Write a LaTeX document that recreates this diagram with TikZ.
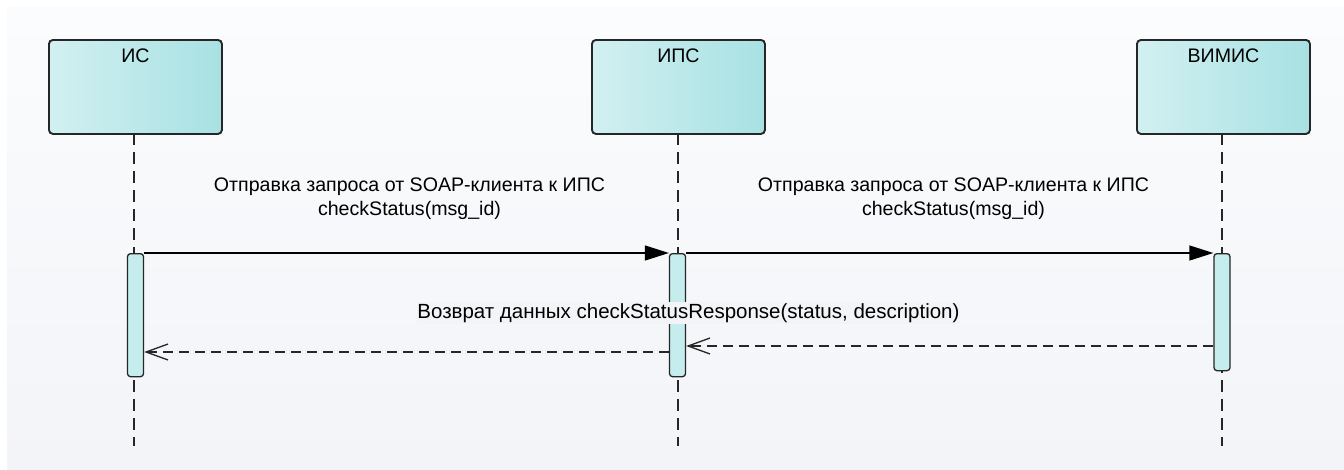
\documentclass[tikz,border=0pt]{standalone}
\usepackage{fontspec}
\setmainfont{Liberation Sans}
\usetikzlibrary{arrows.meta,calc}
\definecolor{lineclr}{HTML}{262626}
\definecolor{boxleft}{HTML}{D2F0F1}
\definecolor{boxright}{HTML}{A8E1E3}
\definecolor{barfill}{HTML}{C6EDEE}
\definecolor{bgtop}{HTML}{FBFCFD}
\definecolor{bgbot}{HTML}{F3F4F8}
\begin{document}
\begin{tikzpicture}[x=1pt,y=-1pt,
  font=\fontsize{19.6}{24}\selectfont,
  lifebox/.style={draw=lineclr,line width=1.9pt,rounded corners=4pt,
    left color=boxleft,right color=boxright,minimum width=173pt,
    minimum height=94pt,inner sep=0pt,anchor=north west},
  boxtitle/.style={inner sep=0pt,text=black},
  actbar/.style={draw=lineclr,line width=1.3pt,rounded corners=3pt,
    fill=barfill,minimum width=16pt,inner sep=0pt,anchor=north},
  lifeline/.style={draw=lineclr,line width=1.3pt,dash pattern=on 12pt off 7pt},
  callmsg/.style={draw=black,line width=1.3pt,
    -{Triangle[length=24pt,width=15pt]}},
  retmsg/.style={draw=lineclr,line width=1.4pt,dash pattern=on 10pt off 6pt,
    -{Straight Barb[length=22pt,width=16pt,line width=1.3pt]}},
  msglabel/.style={align=center,inner sep=0pt,text=black}
]
\useasboundingbox (0,0) rectangle (1344,469);
\fill[white] (0,0) rectangle (1344,469);
\shade[top color=bgtop,bottom color=bgbot] (7,7) rectangle (1344,469);

% lifelines
\coordinate (endIS) at (134,446);
\coordinate (endIPS) at (678,446);
\coordinate (endV) at (1222,446);
\path[lifeline] (134,133) -- (endIS);
\path[lifeline] (678,133) -- (endIPS);
\path[lifeline] (1222,133) -- (endV);

% participants
\node[lifebox] (is) at (48,39) {};
\node[lifebox] (ips) at (591,39) {};
\node[lifebox] (vimis) at (1136,39) {};
\node[boxtitle] (isT) at ($(is.north)+(0,16.5)$) {ИС};
\node[boxtitle] (ipsT) at ($(ips.north)+(0,16.5)$) {ИПС};
\node[boxtitle] (vimisT) at ($(vimis.north)+(0,16.5)$) {ВИМИС};

% activation bars
\node[actbar,minimum height=123pt] (barIS) at (135.5,253) {};
\node[actbar,minimum height=123pt] (barIPS) at (677.5,253) {};
\node[actbar,minimum height=117pt] (barV) at (1222,253) {};

% messages
\draw[callmsg] (barIS.north east) -- (barIPS.north west);
\draw[callmsg] (barIPS.north east) -- (barV.north west);

\coordinate (r1) at (0,346);
\coordinate (r2) at (0,352);
\draw[retmsg] (barV.west |- r1) -- (barIPS.east |- r1);
\draw[retmsg] (barIPS.west |- r2) -- (barIS.east |- r2);

% labels
\node[msglabel] (l1) at (409.5,199) {Отправка запроса от SOAP-клиента к ИПС\\checkStatus(msg\_id)};
\node[msglabel] (l2) at (953.5,199) {Отправка запроса от SOAP-клиента к ИПС\\checkStatus(msg\_id)};
\node[msglabel,fill=bgbot,inner ysep=1pt,font=\fontsize{20.5}{24}\selectfont] (l3) at (688.5,313) {Возврат данных checkStatusResponse(status, description)};
\end{tikzpicture}
\end{document}
